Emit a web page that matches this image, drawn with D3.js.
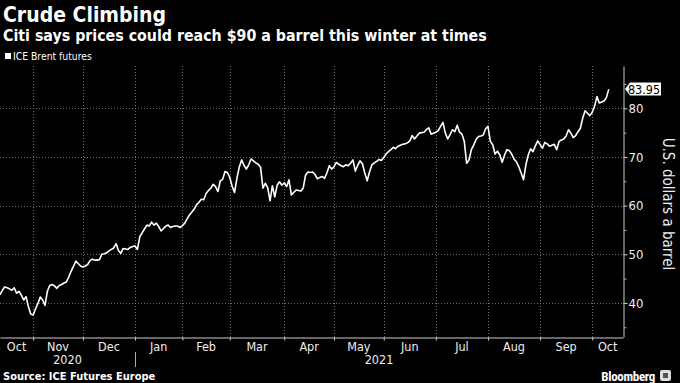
<!DOCTYPE html>
<html>
<head>
<meta charset="utf-8">
<script src="https://cdn.jsdelivr.net/npm/d3@7"></script>
<style>
  body { margin: 0; background: #000; }
  svg { display: block; font-family: "DejaVu Sans Condensed", "DejaVu Sans", sans-serif; font-stretch: condensed; }
</style>
</head>
<body>
<div id="chart"></div>
<script>
// months shown on the x axis and how many trading days each holds
const monthLabels = ["Oct", "Nov", "Dec", "Jan", "Feb", "Mar", "Apr", "May", "Jun", "Jul", "Aug", "Sep", "Oct"];
const monthDays = [14, 21, 22, 20, 20, 23, 21, 21, 22, 22, 22, 22, 8];
const yearLabels = ["2020", "2021"];
const yearMonthCount = [3, 10];
const yTicks = [40, 50, 60, 70, 80];
const yMinorTicks = [35, 45, 55, 65, 75, 85];

// ICE Brent futures, daily settle ($/bbl), Oct 2020 - Oct 2021
const prices = [
  41.7, 42.6, 43.3, 43.1, 42.9, 42.6, 43.1, 42.0, 42.4, 41.6, 40.6, 41.3, 39.2, 37.7,
  37.5, 38.8, 39.9, 41.2, 40.6, 39.5, 42.4, 43.6, 43.8, 43.5, 43.0, 43.6, 43.8, 44.1, 44.3, 45.3, 46.5, 47.5, 48.6, 48.1, 47.6,
  47.4, 47.6, 47.9, 48.7, 49.0, 48.8, 48.8, 48.9, 50.0, 50.1, 50.3, 50.7, 51.0, 51.3, 52.2, 50.8, 50.2, 51.2, 51.1, 51.0, 51.4, 51.6,
  51.7, 51.0, 53.6, 54.4, 55.2, 56.0, 55.8, 56.6, 56.0, 56.4, 55.7, 54.8, 55.3, 55.8, 56.0, 55.5, 55.7, 55.8, 55.8, 55.5,
  55.9, 56.4, 57.3, 58.1, 58.7, 59.3, 60.2, 60.7, 61.3, 61.2, 62.5, 63.1, 63.6, 64.4, 63.9, 62.9, 65.1, 65.4, 67.0, 66.8,
  65.8, 64.0, 62.7, 65.6, 67.9, 69.4, 68.3, 67.5, 68.4, 69.6, 69.2, 68.8, 68.5, 67.9, 63.6, 64.6, 63.7, 61.0, 64.1, 61.8, 64.2, 64.9, 64.2,
  64.7, 63.9, 65.3, 62.2, 62.7, 63.2, 63.1, 63.0, 63.6, 66.3, 66.9, 66.8, 66.9, 66.4, 65.5, 65.8, 66.0, 65.6, 66.7, 68.2, 67.5,
  68.0, 68.9, 68.5, 68.2, 68.0, 68.4, 68.2, 68.7, 69.4, 67.1, 68.3, 69.2, 68.6, 66.7, 65.1, 66.9, 68.4, 68.8, 69.1, 69.5, 69.3,
  69.9, 70.6, 71.1, 71.5, 72.0, 71.7, 72.2, 72.4, 72.6, 72.7, 72.9, 73.3, 74.4, 73.7, 74.3, 74.9, 75.0, 75.1, 75.6, 76.0, 74.7, 74.9,
  75.1, 75.4, 76.3, 77.1, 74.9, 73.7, 74.6, 75.6, 75.2, 76.5, 75.1, 74.7, 73.2, 68.7, 69.4, 71.5, 72.5, 73.6, 74.2, 74.3, 74.5, 75.8,
  76.3, 73.2, 72.5, 70.6, 71.2, 70.4, 68.9, 70.4, 71.5, 71.3, 70.6, 69.6, 69.0, 68.0, 66.7, 65.3, 68.4, 70.4, 71.7, 71.1, 72.3, 73.3,
  72.6, 71.8, 73.0, 72.7, 72.2, 72.4, 72.6, 71.5, 73.2, 73.5, 73.7, 74.3, 75.6, 74.9, 74.0, 74.4, 75.2, 75.9, 78.0, 79.5, 79.0, 78.5,
  79.2, 80.4, 82.4, 81.1, 81.3, 81.5, 82.2, 83.95
];

drawChart();

function drawChart() {
  const width = 680;
  const height = 383;
  const plotRight = 623;
  const plotTop = 66;
  const plotBottom = 337;

  const svg = d3.select("#chart").append("svg")
    .attr("width", width)
    .attr("height", height)
    .style("background", "#000");

  // month boundaries as trading day indexes
  const starts = [0];
  monthDays.forEach(function(n, i) { starts.push(starts[i] + n); });
  const endIndex = prices.length + 5;

  const x = d3.scaleLinear().domain([0, endIndex]).range([0, plotRight]);
  const y = d3.scaleLinear().domain([33, 88.7]).range([plotBottom, plotTop]);

  // titles
  svg.append("text")
    .attr("x", 3).attr("y", 22)
    .attr("fill", "#fff")
    .attr("font-size", 21).attr("font-weight", "bold")
    .text("Crude Climbing");
  svg.append("text")
    .attr("x", 3).attr("y", 41)
    .attr("fill", "#fff")
    .attr("font-size", 15.8).attr("font-weight", "bold")
    .text("Citi says prices could reach $90 a barrel this winter at times");

  // legend
  svg.append("rect")
    .attr("x", 5).attr("y", 53).attr("width", 6).attr("height", 6)
    .attr("fill", "#fff");
  svg.append("text")
    .attr("x", 13).attr("y", 60)
    .attr("fill", "#fff")
    .attr("font-size", 10.3)
    .text("ICE Brent futures");

  // grid
  const grid = svg.append("g")
    .attr("stroke", "#6a6a6a")
    .attr("stroke-width", 1)
    .attr("stroke-dasharray", "1,2");
  grid.selectAll(".hgrid")
    .data(yTicks)
    .enter().append("line")
    .attr("x1", 0).attr("x2", plotRight)
    .attr("y1", function(d) { return Math.round(y(d)) + 0.5; })
    .attr("y2", function(d) { return Math.round(y(d)) + 0.5; });
  grid.selectAll(".vgrid")
    .data(starts.slice(1, monthDays.length))
    .enter().append("line")
    .attr("y1", plotTop).attr("y2", plotBottom)
    .attr("x1", function(d) { return Math.round(x(d)) + 0.5; })
    .attr("x2", function(d) { return Math.round(x(d)) + 0.5; });

  // price line
  const line = d3.line()
    .x(function(d, i) { return x(i); })
    .y(function(d) { return y(d); });
  svg.append("path")
    .datum(prices)
    .attr("fill", "none")
    .attr("stroke", "#fff")
    .attr("stroke-width", 1.6)
    .attr("stroke-linejoin", "round")
    .attr("d", line);

  // right axis
  const yAxis = svg.append("g")
    .attr("transform", "translate(" + (plotRight + 0.5) + ",0)")
    .call(d3.axisRight(y).tickValues(yTicks).tickSize(4).tickSizeOuter(0).tickPadding(1));
  yAxis.select(".domain").attr("stroke", "#ccc");
  yAxis.selectAll(".tick line").attr("stroke", "#ccc");
  yAxis.selectAll(".tick text")
    .attr("fill", "#eee")
    .attr("font-size", 13)
    .attr("font-family", "\"DejaVu Sans Condensed\", \"DejaVu Sans\", sans-serif");
  const yMinor = svg.append("g")
    .attr("transform", "translate(" + (plotRight + 0.5) + ",0)")
    .call(d3.axisRight(y).tickValues(yMinorTicks).tickSize(3).tickSizeOuter(0).tickFormat(""));
  yMinor.select(".domain").remove();
  yMinor.selectAll(".tick line").attr("stroke", "#aaa");

  svg.append("text")
    .attr("transform", "translate(663,204) rotate(90)")
    .attr("text-anchor", "middle")
    .attr("fill", "#eee")
    .attr("font-size", 15)
    .text("U.S. dollars a barrel");

  // last value label
  const last = prices[prices.length - 1];
  const ly = y(last);
  svg.append("path")
    .attr("d", "M" + (plotRight + 2) + "," + ly +
      "L" + (plotRight + 7) + "," + (ly - 6.5) +
      "H" + 661 + "V" + (ly + 6.5) +
      "H" + (plotRight + 7) + "Z")
    .attr("fill", "#fff");
  svg.append("text")
    .attr("x", 644).attr("y", ly + 4.5)
    .attr("text-anchor", "middle")
    .attr("fill", "#000")
    .attr("font-size", 12.5)
    .text(last.toFixed(2));

  // bottom axis
  const xAxis = svg.append("g")
    .attr("transform", "translate(0," + (plotBottom + 0.5) + ")")
    .call(d3.axisBottom(x).tickValues(starts.slice(1, monthDays.length)).tickSize(3).tickSizeOuter(0).tickFormat(""));
  xAxis.select(".domain").attr("stroke", "#ccc");
  xAxis.selectAll(".tick line").attr("stroke", "#ccc");

  const monthEnds = starts.slice(1);
  monthEnds[monthEnds.length - 1] = endIndex;
  svg.selectAll(".month")
    .data(monthLabels)
    .enter().append("text")
    .attr("x", function(d, i) { return (x(starts[i]) + x(monthEnds[i])) / 2; })
    .attr("y", 351)
    .attr("text-anchor", "middle")
    .attr("fill", "#eee")
    .attr("font-size", 12.5)
    .text(function(d) { return d; });

  let m = 0;
  yearLabels.forEach(function(label, i) {
    const a = x(starts[m]);
    const b = (m + yearMonthCount[i] >= monthDays.length) ? x(endIndex) : x(starts[m + yearMonthCount[i]]);
    svg.append("text")
      .attr("x", (a + b) / 2).attr("y", 364)
      .attr("text-anchor", "middle")
      .attr("fill", "#eee")
      .attr("font-size", 12.5)
      .text(label);
    if (i > 0) {
      svg.append("line")
        .attr("x1", Math.round(a) + 0.5).attr("x2", Math.round(a) + 0.5)
        .attr("y1", 352).attr("y2", 367)
        .attr("stroke", "#aaa");
    }
    m += yearMonthCount[i];
  });

  // footer
  svg.append("text")
    .attr("x", 3).attr("y", 380)
    .attr("fill", "#fff")
    .attr("font-size", 11).attr("font-weight", "bold")
    .text("Source: ICE Futures Europe");
  svg.append("text")
    .attr("x", 655).attr("y", 381)
    .attr("text-anchor", "end")
    .attr("fill", "#fff")
    .attr("font-size", 13).attr("font-weight", "bold")
    .attr("font-family", "Roboto, sans-serif")
    .attr("letter-spacing", -0.3)
    .text("Bloomberg");
  svg.append("rect")
    .attr("x", 660).attr("y", 370).attr("width", 11).attr("height", 11).attr("rx", 2)
    .attr("fill", "#ddd");
  svg.append("rect")
    .attr("x", 663).attr("y", 373).attr("width", 5).attr("height", 5)
    .attr("fill", "#555");
}
</script>
</body>
</html>
